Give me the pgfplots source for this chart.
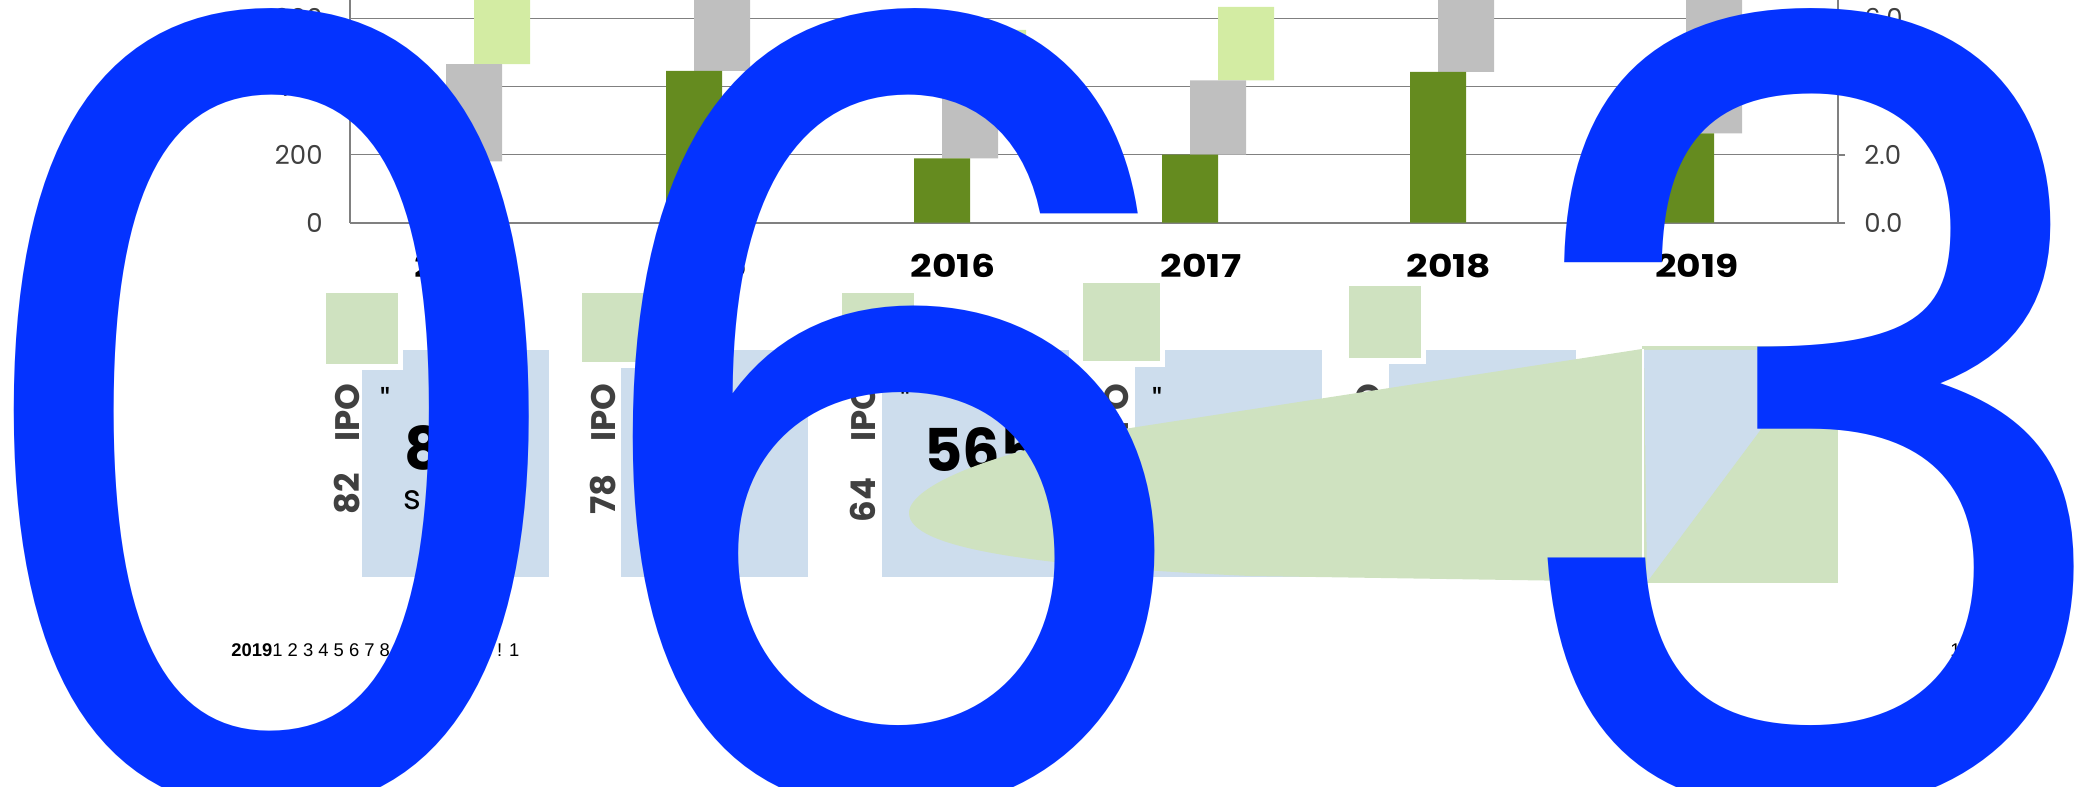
\documentclass[border=0pt]{standalone}
\usepackage{pgfplots}
\pgfplotsset{compat=1.18}
\usepackage{fontspec}
\setmainfont{Poppins}
\newfontfamily\poppx[FakeStretch=1.2]{Poppins}
\newfontfamily\popq[Ligatures=TeXOff]{Poppins}
\newfontfamily\bigfont{TeX Gyre Heros}
\newfontfamily\libsans{Liberation Sans}
\definecolor{dkgreen}{RGB}{101,139,31}
\definecolor{barg}{RGB}{191,191,191}
\definecolor{ltg}{RGB}{211,236,163}
\definecolor{sqg}{RGB}{207,226,192}
\definecolor{lb}{RGB}{205,221,237}
\definecolor{bigblue}{RGB}{4,51,255}
\definecolor{axg}{RGB}{128,128,128}
\definecolor{tk}{RGB}{64,64,64}
\begin{document}
\begin{tikzpicture}
\useasboundingbox (0,0) rectangle (1044.5pt,393.5pt);
\clip (0,0) rectangle (1044.5pt,393.5pt);
\begin{axis}[
  at={(175pt,282.15pt)}, anchor=south west,
  scale only axis, width=744pt, height=136.2pt,
  xmin=-0.5, xmax=5.5, ymin=0, ymax=800,
  ybar stacked, bar width=28pt,
  axis x line*=bottom, axis y line*=left,
  axis line style={axg, line width=1pt},
  ymajorgrids, grid style={axg, line width=0.8pt},
  xtick={0,...,5}, xticklabels={2014,2015,2016,2017,2018,2019},
  ytick={0,200,400,600},
  major tick length=0pt,
  xticklabel style={font=\poppx\fontsize{15.7pt}{16pt}\selectfont\bfseries, anchor=base, yshift=-27.2pt, xshift=-8.5pt},
  yticklabel style={font=\fontsize{13pt}{14pt}\selectfont, text=tk, anchor=east, inner sep=0pt, xshift=-13.5pt},
  /pgf/number format/assume math mode=true,
]
\addplot[fill=dkgreen, draw=none, bar shift=-14pt] coordinates {(0,180) (1,446) (2,189) (3,200) (4,443) (5,262)};
\addplot[fill=barg, draw=none, bar shift=0pt] coordinates {(0,286) (1,254) (2,261) (3,218) (4,257) (5,438)};
\addplot[fill=ltg, draw=none, bar shift=14pt] coordinates {(0,254) (1,150) (2,116) (3,216) (4,150) (5,100)};
\end{axis}
\begin{axis}[
  at={(175pt,282.15pt)}, anchor=south west,
  scale only axis, width=744pt, height=136.2pt,
  xmin=-0.5, xmax=5.5, ymin=0, ymax=8,
  axis x line=none, axis y line*=right,
  axis line style={axg, line width=1pt},
  ytick={0,2,4,6},
  tick align=outside, major tick length=3.5pt,
  tick style={axg, line width=1pt},
  yticklabel style={font=\fontsize{13pt}{14pt}\selectfont, text=tk, anchor=west, inner sep=0pt, xshift=9.5pt,
    /pgf/number format/.cd, fixed, fixed zerofill, precision=1, assume math mode=true},
]
\addplot[draw=none] coordinates {(0,0) (5,0)};
\end{axis}
\begin{scope}[x=0.5pt, y=-0.5pt, yshift=393.5pt]
% panels
\foreach \L/\sx/\sy/\sr/\sb in {362/326/293/398/364, 621/582/293/653/362, 882/842/293/914/364, 1135/1083/283/1160/361, 1389/1349/286/1421/358}{
  \fill[lb] (\L,350) rectangle ({\L+187},577);
  \fill[white] ({\sx-5},{\sy-5}) rectangle ({\sr+5},{\sb+6});
  \fill[sqg] (\sx,\sy) rectangle (\sr,\sb);
}
\tikzset{rt/.style={rotate=90, inner sep=0pt, text=tk, font=\fontsize{17pt}{18pt}\selectfont\bfseries}}
\tikzset{bn/.style={anchor=base west, inner sep=0pt, font=\fontsize{29.5pt}{30pt}\selectfont\bfseries}}
\tikzset{sm/.style={inner sep=0pt, font=\fontsize{17pt}{18pt}\selectfont}}
\tikzset{qt/.style={inner sep=0pt, anchor=north west, font=\popq\fontsize{17pt}{18pt}\selectfont}}
% panel A
\node[rt, anchor=base east] at (359,383) {IPO};
\node[rt, anchor=base west] at (359,515) {82};
\node[qt] at (380,387) {"};
\node[bn] at (404,470) {812};
\node[sm, anchor=base west] at (403,510) {s};
% panel B
\node[rt, anchor=base east] at (615,383) {IPO};
\node[rt, anchor=base west] at (615,515) {78};
\node[qt] at (639,387) {"};
\node[bn] at (663,471) {647};
\node[sm, anchor=base west] at (662,510) {s};
% panel C
\node[rt, anchor=base east] at (875,383) {IPO};
\node[rt, anchor=base west] at (875,523) {64};
\node[qt] at (900,387) {"};
\node[bn] at (924,472) {565};
\node[sm, anchor=base west] at (923,510) {s};
% panel D
\node[rt, anchor=base east] at (1128,383) {IPO};
\node[rt, anchor=base west] at (1128,515) {59};
\node[qt] at (1152,387) {"};
\node[bn] at (1177,471) {488};
% panel E
\node[rt, anchor=base east] at (1380,383) {IPO};
\node[rt, anchor=base west] at (1380,515) {61};
\node[qt] at (1406,387) {"};
\node[bn] at (1431,471) {512};
% green shape
\fill[sqg] (1642,349) -- (1137,427) .. controls (1000,448) and (909,485) .. (909,513) .. controls (909,548) and (1030,566) .. (1250,576) -- (1642,582) -- cycle;
\fill[sqg] (1642,346) rectangle (1838,583);
\fill[lb] (1644,350) -- (1647,582) -- (1820,350) -- cycle;
\draw[white, line width=1pt] (1643,349) -- (1643,583);
% footnotes
\node[anchor=base west, inner sep=0pt, font=\libsans\fontsize{9.2pt}{10pt}\selectfont] at (231,657) {\textbf{2019}1 2 3 4 5 6 7 8 9 : ; < = > ? ! 1};
\node[anchor=base west, inner sep=0pt, font=\libsans\fontsize{9.2pt}{10pt}\selectfont] at (1950,657) {16};
% big digits
\node[anchor=base west, inner sep=0pt, text=bigblue, font=\bigfont\fontsize{555pt}{556pt}\selectfont] at (-34,796) {0};
\node[anchor=base west, inner sep=0pt, text=bigblue, font=\bigfont\fontsize{555pt}{556pt}\selectfont] at (585,796) {6};
\node[anchor=base west, inner sep=0pt, text=bigblue, font=\bigfont\fontsize{555pt}{556pt}\selectfont] at (1512,796) {3};
\end{scope}
\end{tikzpicture}
\end{document}
